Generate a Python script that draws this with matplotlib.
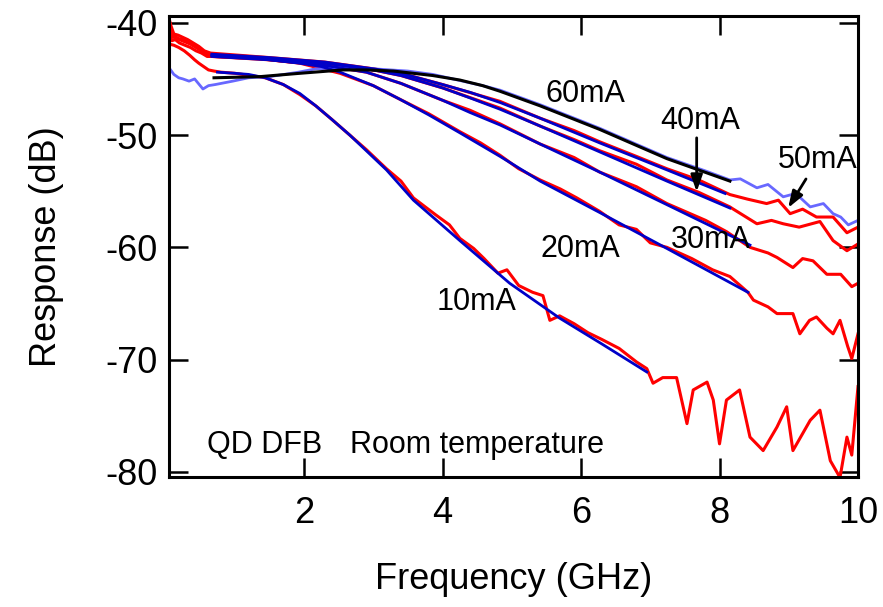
import matplotlib
matplotlib.use("Agg")
import matplotlib.pyplot as plt

plt.rcParams['font.family'] = ['Liberation Sans', 'DejaVu Sans']
plt.rcParams['axes.unicode_minus'] = False

# measured response, red traces (GHz, dB)
data_10_f = [0.05, 0.12, 0.19, 0.27, 0.35, 0.42, 0.48, 0.55, 0.62, 0.7, 0.8, 1.0, 1.44, 1.7, 1.94, 2.17, 2.4, 2.66, 2.9, 3.19,
             3.4, 3.58, 3.9, 4.1, 4.25, 4.45, 4.6, 4.8, 4.93, 5.1, 5.3, 5.45, 5.55, 5.69, 5.9, 6.1, 6.3, 6.55, 6.8, 6.95,
             7.04, 7.18, 7.38, 7.53, 7.62, 7.82, 7.91, 8.0, 8.1, 8.29, 8.44, 8.63, 8.83, 8.97, 9.06, 9.31, 9.45, 9.6, 9.74, 9.84,
             9.91, 10.0]
data_10_db = [-41.9, -42.0, -42.2, -42.5, -42.9, -43.3, -43.6, -43.9, -44.2, -44.3, -44.4, -44.5, -44.9, -45.5, -46.4, -47.4, -48.6, -50.0, -51.3, -53.0,
              -54.1, -55.6, -57.1, -58.0, -59.2, -60.1, -61.0, -62.3, -62.0, -63.4, -64.0, -64.3, -66.5, -66.1, -66.8, -67.6, -68.2, -69.0, -70.2, -70.8,
              -72.1, -71.6, -71.6, -75.7, -72.7, -72.0, -73.6, -77.5, -73.6, -72.7, -76.9, -78.1, -76.0, -74.2, -78.1, -75.4, -74.5, -79.0, -80.5, -76.9,
              -78.5, -72.4]

data_20_f = [0.05, 0.09, 0.14, 0.2, 0.28, 0.36, 0.44, 0.52, 0.6, 0.67, 1.36, 1.94, 2.52, 3.0, 3.38, 3.8, 4.25, 4.55, 4.83, 5.1,
             5.41, 5.7, 5.94, 6.27, 6.55, 6.8, 7.0, 7.24, 7.6, 7.9, 8.15, 8.41, 8.49, 8.7, 8.83, 9.06, 9.16, 9.3, 9.4, 9.55,
             9.64, 9.74, 9.85, 9.91, 10.0]
data_20_db = [-40.8, -41.6, -41.5, -41.8, -42.0, -42.2, -42.5, -42.7, -43.0, -43.0, -43.2, -43.6, -44.5, -45.6, -46.8, -48.1, -49.7, -50.7, -51.8, -53.0,
              -54.0, -54.8, -55.6, -56.8, -58.0, -58.4, -59.6, -60.0, -61.0, -62.0, -62.6, -64.0, -64.7, -65.3, -65.9, -65.9, -67.7, -66.5, -66.2, -67.2,
              -67.7, -66.5, -68.8, -69.9, -67.7]

data_30_f = [0.05, 0.09, 0.14, 0.2, 0.28, 0.36, 0.44, 0.52, 0.6, 0.67, 1.5, 2.3, 2.9, 3.4, 4.0, 4.4, 4.83, 5.41, 5.9, 6.27,
             6.8, 7.24, 7.8, 8.1, 8.44, 8.7, 8.83, 9.06, 9.2, 9.35, 9.55, 9.75, 9.91, 10.0]
data_30_db = [-40.3, -41.3, -41.2, -41.5, -41.7, -41.9, -42.2, -42.5, -42.8, -43.0, -43.3, -43.8, -44.4, -45.4, -46.9, -47.8, -49.0, -50.8, -52.0, -53.3,
              -54.6, -56.1, -57.6, -58.6, -60.0, -60.5, -60.9, -61.8, -61.0, -61.2, -62.4, -62.4, -63.5, -63.2]

data_40_f = [0.05, 0.08, 0.12, 0.18, 0.25, 0.32, 0.4, 0.48, 0.56, 0.65, 1.5, 2.3, 3.0, 3.4, 4.0, 4.83, 5.41, 5.9, 6.27, 6.8,
             7.24, 7.7, 8.15, 8.2, 8.54, 8.75, 8.92, 9.15, 9.45, 9.64, 9.84, 10.0]
data_40_db = [-39.9, -40.8, -41.3, -41.4, -41.5, -41.7, -42.0, -42.3, -42.6, -42.8, -43.2, -43.6, -44.2, -44.7, -45.8, -47.6, -49.2, -50.4, -51.4, -52.6,
              -54.0, -55.1, -56.4, -56.6, -57.9, -57.6, -57.9, -58.2, -57.7, -59.4, -60.3, -59.7]

data_50_f = [0.05, 0.08, 0.12, 0.18, 0.25, 0.32, 0.4, 0.48, 0.56, 0.65, 1.5, 2.3, 3.0, 3.4, 4.0, 4.83, 5.41, 5.9, 6.27, 6.8,
             7.24, 7.7, 8.08, 8.15, 8.4, 8.68, 8.85, 9.02, 9.2, 9.4, 9.64, 9.84, 10.0]
data_50_db = [-39.6, -40.3, -41.0, -41.1, -41.3, -41.5, -41.8, -42.1, -42.5, -42.7, -43.1, -43.5, -44.1, -44.5, -45.5, -47.0, -48.5, -49.6, -50.6, -51.9,
              -53.0, -54.0, -55.1, -55.3, -55.7, -56.1, -55.8, -57.0, -56.6, -57.3, -57.3, -58.7, -58.2]

# 60mA trace (light blue)
data_60_f = [0.05, 0.12, 0.19, 0.25, 0.34, 0.42, 0.54, 0.62, 0.72, 0.97, 1.2, 1.5, 1.92, 2.17, 2.6, 3.0, 3.5, 3.86, 4.58, 4.83,
             5.41, 6.27, 7.24, 7.8, 8.15, 8.3, 8.54, 8.7, 8.92, 9.1, 9.31, 9.5, 9.64, 9.75, 9.86, 10.0]
data_60_db = [-44.0, -44.6, -44.9, -45.0, -45.2, -45.0, -45.9, -45.6, -45.5, -45.2, -44.9, -44.8, -44.4, -44.1, -44.0, -44.1, -44.3, -44.6, -45.6, -46.0,
              -47.3, -49.4, -52.0, -53.2, -54.0, -53.9, -54.7, -54.4, -55.5, -55.2, -56.4, -56.1, -57.0, -57.3, -58.0, -57.6]

# fits
fit_10_f = [0.75, 1.0, 1.2, 1.44, 1.7, 1.94, 2.17, 2.4, 2.66, 2.9, 3.19, 3.58, 4.25, 4.97, 5.69, 6.3, 6.95]
fit_10_db = [-44.4, -44.5, -44.6, -44.9, -45.5, -46.3, -47.4, -48.6, -50.0, -51.4, -53.1, -55.8, -59.4, -63.2, -66.3, -68.6, -71.1]
fit_20_f = [0.67, 1.36, 1.94, 2.25, 2.52, 3.0, 3.38, 3.8, 4.25, 4.83, 5.41, 6.27, 7.24, 8.41]
fit_20_db = [-42.9, -43.2, -43.6, -43.9, -44.4, -45.6, -46.8, -48.2, -49.8, -51.9, -54.1, -56.9, -60.1, -64.0]
fit_30_f = [0.67, 1.5, 2.3, 2.9, 3.4, 4.0, 4.4, 4.83, 5.41, 6.27, 7.24, 8.44]
fit_30_db = [-43.0, -43.3, -43.8, -44.4, -45.4, -46.9, -48.0, -49.1, -50.8, -53.3, -56.2, -59.8]
fit_40_f = [0.67, 1.5, 2.3, 3.0, 3.4, 4.0, 4.4, 4.83, 5.41, 6.27, 7.24, 8.15]
fit_40_db = [-42.9, -43.2, -43.6, -44.2, -44.7, -45.8, -46.7, -47.7, -49.2, -51.5, -54.1, -56.5]
fit_50_f = [0.67, 1.5, 2.3, 3.0, 3.4, 4.0, 4.4, 4.83, 5.41, 6.27, 7.24, 8.08]
fit_50_db = [-42.8, -43.1, -43.5, -44.1, -44.5, -45.5, -46.2, -47.1, -48.5, -50.7, -53.1, -55.2]
fit_60_f = [0.7, 1.36, 1.94, 2.56, 2.9, 3.29, 3.86, 4.25, 4.58, 4.83, 5.41, 6.27, 7.24, 8.15]
fit_60_db = [-44.9, -44.8, -44.5, -44.2, -44.2, -44.3, -44.7, -45.1, -45.6, -46.1, -47.4, -49.5, -52.1, -54.1]

fig = plt.figure(figsize=(8.83, 6.07), dpi=100)
ax = fig.add_axes([0.1914, 0.2142, 0.7803, 0.7594])

red = "#ff0000"
for f, d in [(data_10_f, data_10_db), (data_20_f, data_20_db), (data_30_f, data_30_db),
             (data_40_f, data_40_db), (data_50_f, data_50_db)]:
    ax.plot(f, d, color=red, lw=2.2)
ax.plot(data_60_f, data_60_db, color="#6868ff", lw=2.0)

for f, d in [(fit_10_f, fit_10_db), (fit_20_f, fit_20_db), (fit_30_f, fit_30_db),
             (fit_40_f, fit_40_db), (fit_50_f, fit_50_db)]:
    ax.plot(f, d, color="#0000c8", lw=2.0)
ax.plot(fit_60_f, fit_60_db, color="black", lw=2.2)

# labels on curves
fs = 22
ax.text(5.48, -47.1, "60mA", fontsize=fs)
ax.text(7.14, -49.5, "40mA", fontsize=fs)
ax.text(8.84, -52.9, "50mA", fontsize=fs)
ax.text(7.29, -60.1, "30mA", fontsize=fs)
ax.text(5.41, -60.9, "20mA", fontsize=fs)
ax.text(3.92, -65.6, "10mA", fontsize=fs)
ax.text(0.6, -78.3, "QD DFB", fontsize=fs)
ax.text(2.66, -78.3, "Room temperature", fontsize=fs)

arrow = dict(arrowstyle="-|>,head_length=1.0,head_width=0.35", color="black", lw=2)
ax.annotate("", xy=(7.67, -55.3), xytext=(7.67, -50.0), arrowprops=arrow)
ax.annotate("", xy=(8.97, -56.7), xytext=(9.27, -53.7), arrowprops=arrow)

ax.set_xlim(0.05, 10)
ax.set_ylim(-80.45, -39.4)
ax.set_xticks([2, 4, 6, 8, 10])
ax.set_yticks([-80, -70, -60, -50, -40])
ax.tick_params(direction="in", length=13.5, width=1.8, labelsize=26,
               top=True, right=True)
ax.tick_params(axis="x", pad=14)
ax.tick_params(axis="y", pad=8)
for s in ax.spines.values():
    s.set_linewidth(2.2)

ax.set_xlabel("Frequency (GHz)", fontsize=26, labelpad=22)
ax.set_ylabel("Response (dB)", fontsize=26, labelpad=30)

plt.savefig("out.png", dpi=100)
